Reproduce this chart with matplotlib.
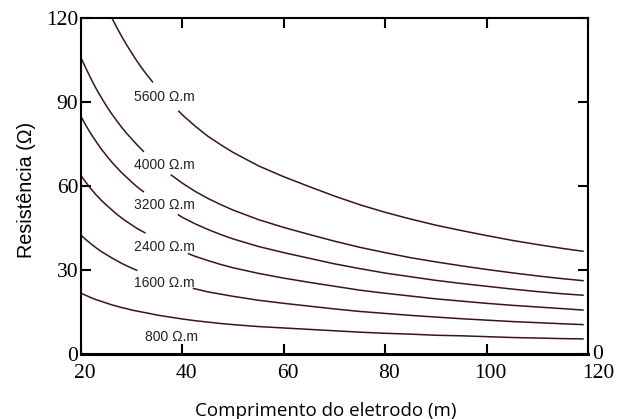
import numpy as np
import matplotlib
matplotlib.use("Agg")
import matplotlib.pyplot as plt
from matplotlib.transforms import ScaledTranslation

nan = np.nan

# Curves (nan = gap where the curve's label sits)
x_5600 = [26.1, 27, 28, 29, 30, 31, 32, 33, 34.1, nan,
          39.3, 40, 42.5, 45, 47.5, 50, 55, 60, 65, 70, 75, 80, 85, 90, 95, 100, 105, 110, 115, 119]
y_5600 = [120, 116.8, 113.5, 110.4, 107.5, 104.7, 102.1, 99.7, 97.2, nan,
          86.7, 85.4, 81.4, 77.8, 74.8, 72.0, 67.2, 63.3, 59.8, 56.4, 53.3, 50.6, 48.2, 46.0, 44.1, 42.3, 40.6, 39.1, 37.7, 36.7]

x_4000 = [20, 21, 22, 23, 24, 25, 26, 27, 28, 29, 30, 31, 32.3, nan,
          37.8, 40, 42.5, 45, 47.5, 50, 55, 60, 65, 70, 75, 80, 85, 90, 95, 100, 105, 110, 115, 119]
y_4000 = [105.8, 101.9, 98.2, 94.7, 91.6, 88.6, 85.9, 83.4, 81.0, 78.8, 76.8, 74.8, 72.4, nan,
          63.9, 61.0, 58.1, 55.6, 53.4, 51.4, 48.0, 45.2, 42.7, 40.3, 38.1, 36.2, 34.4, 32.9, 31.5, 30.2, 29.0, 27.9, 26.9, 26.2]

x_3200 = [20, 21, 22, 23, 24, 25, 26, 27, 28, 29, 30, 31, 32.3, nan,
          39.2, 40, 42.5, 45, 47.5, 50, 55, 60, 65, 70, 75, 80, 85, 90, 95, 100, 105, 110, 115, 119]
y_3200 = [84.8, 81.5, 78.5, 75.8, 73.2, 70.9, 68.7, 66.7, 64.8, 63.1, 61.4, 59.8, 58.0, nan,
          49.7, 48.8, 46.5, 44.5, 42.7, 41.1, 38.4, 36.2, 34.2, 32.2, 30.5, 28.9, 27.6, 26.3, 25.2, 24.2, 23.2, 22.3, 21.5, 21.0]

x_2400 = [20, 21, 22, 23, 24, 25, 26, 27, 28, 29, 30, 31, 32.6, nan,
          41.2, 42.5, 45, 47.5, 50, 55, 60, 65, 70, 75, 80, 85, 90, 95, 100, 105, 110, 115, 119]
y_2400 = [63.7, 61.2, 58.9, 56.8, 54.9, 53.2, 51.6, 50.0, 48.6, 47.3, 46.1, 44.9, 43.3, nan,
          35.8, 34.9, 33.4, 32.0, 30.8, 28.8, 27.1, 25.6, 24.2, 22.8, 21.7, 20.7, 19.7, 18.9, 18.1, 17.4, 16.8, 16.2, 15.7]

x_1600 = [20, 21, 22, 23, 24, 25, 26, 27, 28, 29, 30, 31, nan,
          42.2, 45, 47.5, 50, 55, 60, 65, 70, 75, 80, 85, 90, 95, 100, 105, 110, 115, 119]
y_1600 = [42.4, 40.8, 39.3, 37.9, 36.6, 35.5, 34.4, 33.4, 32.4, 31.5, 30.7, 29.9, nan,
          23.4, 22.2, 21.4, 20.6, 19.2, 18.1, 17.1, 16.1, 15.2, 14.5, 13.8, 13.2, 12.6, 12.1, 11.6, 11.2, 10.8, 10.5]

x_800 = [20, 21, 22, 23, 24, 25, 26, 27, 28, 29, 30, 32, 34, 35, 37.5, 40, 42.5, 45, 47.5, 50,
         55, 60, 65, 70, 75, 80, 85, 90, 95, 100, 105, 110, 115, 119]
y_800 = [21.7, 20.9, 20.1, 19.4, 18.8, 18.2, 17.6, 17.1, 16.6, 16.2, 15.7, 15.0, 14.3, 13.9, 13.2, 12.5, 11.9, 11.4, 10.9, 10.5,
         9.8, 9.3, 8.8, 8.3, 7.8, 7.4, 7.1, 6.7, 6.5, 6.2, 5.9, 5.7, 5.5, 5.4]

curve_labels = ["5600 Ω.m", "4000 Ω.m", "3200 Ω.m", "2400 Ω.m", "1600 Ω.m", "800 Ω.m"]
label_x = [36.5, 36.5, 36.5, 36.5, 36.5, 37.9]
label_y = [91.8, 67.5, 53.2, 38.3, 25.3, 6.2]

xticks = [20, 40, 60, 80, 100, 120]
yticks = [0, 30, 60, 90, 120]

fig = plt.figure(figsize=(6.18, 4.19), dpi=100)
ax = fig.add_axes([0.1311, 0.1551, 0.8204, 0.8019])

line_color = "#3b1515"
for xs, ys in [(x_5600, y_5600), (x_4000, y_4000), (x_3200, y_3200),
               (x_2400, y_2400), (x_1600, y_1600), (x_800, y_800)]:
    ax.plot(xs, ys, color=line_color, lw=1.1, solid_joinstyle="round")

for t, lx, ly in zip(curve_labels, label_x, label_y):
    ax.text(lx, ly, t, ha="center", va="center", fontsize=10,
            family="Liberation Sans", color="#222222")

ax.set_xlim(20, 120)
ax.set_ylim(0, 120)
ax.set_xticks(xticks)
ax.set_yticks(yticks)
ax.set_xticklabels([str(v) for v in xticks], family="Liberation Serif", fontsize=15.5)
ax.set_yticklabels([str(v) for v in yticks], family="Liberation Serif", fontsize=15.5)
ax.tick_params(direction="in", length=7, width=1.5, top=True, right=True,
               colors="black")
ax.tick_params(axis="x", pad=7)
ax.tick_params(axis="y", pad=2)
for s in ax.spines.values():
    s.set_linewidth(1.5)
ax.spines["bottom"].set_linewidth(2.2)

# small horizontal offsets of the bottom tick labels as in the reference
for lab in ax.get_xticklabels():
    dx = 7.5 if lab.get_text() == "120" else 3
    lab.set_transform(lab.get_transform() + ScaledTranslation(dx / 72, 0, fig.dpi_scale_trans))

ax.annotate("0", xy=(1, 0), xycoords="axes fraction", xytext=(3, 0),
            textcoords="offset points", ha="left", va="center",
            family="Liberation Serif", fontsize=15.5)

ax.set_ylabel("Resistência (Ω)", family="Liberation Sans", fontsize=14.2, labelpad=7)
ax.yaxis.label.set_y(0.488)
ax.set_xlabel("Comprimento do eletrodo (m)", family="Open Sans", fontsize=13.5)
ax.xaxis.set_label_coords(0.483, -0.142)

fig.savefig("out.png", dpi=100)
